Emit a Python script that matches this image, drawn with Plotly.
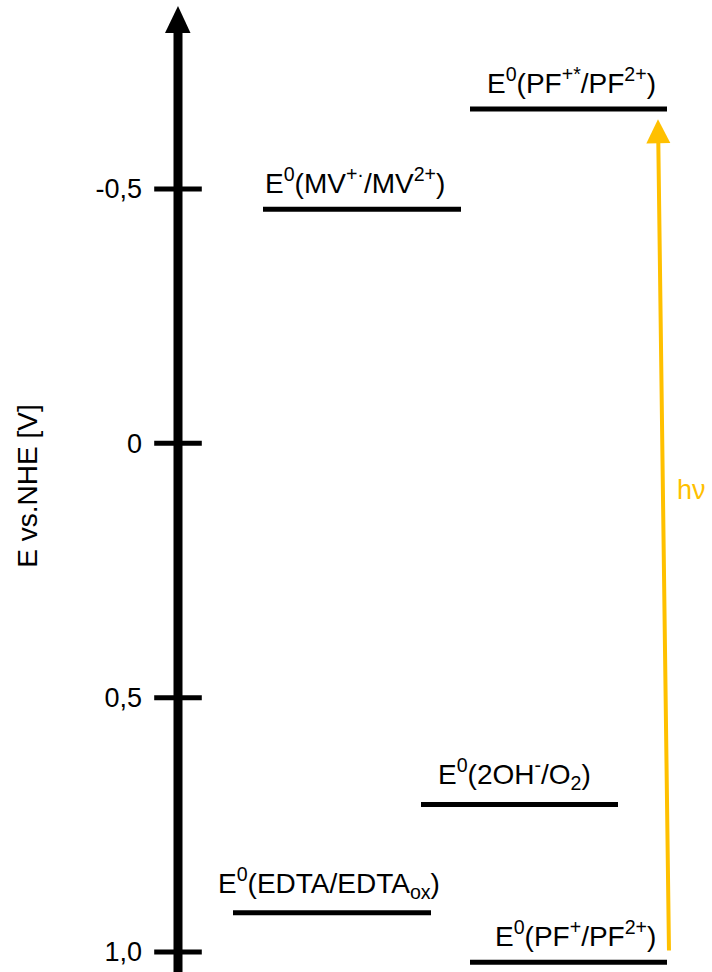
import plotly.graph_objects as go

# ---------------- data ----------------
couples = ["MV", "PF*", "2OH", "EDTA", "PF"]
level_labels = [
    "E<sup>0</sup>(MV<sup>+·</sup>/MV<sup>2+</sup>)",
    "E<sup>0</sup>(PF<sup>+*</sup>/PF<sup>2+</sup>)",
    "E<sup>0</sup>(2OH<sup>-</sup>/O<sub>2</sub>)",
    "E<sup>0</sup>(EDTA/EDTA<sub>ox</sub>)",
    "E<sup>0</sup>(PF<sup>+</sup>/PF<sup>2+</sup>)",
]
potentials = [-0.46, -0.657, 0.71, 0.923, 1.02]   # V vs NHE
tick_values = [-0.5, 0.0, 0.5, 1.0]
tick_labels = ["-0,5", "0", "0,5", "1,0"]
excitation_from = 1.0    # PF+/PF2+ (arrow start)
excitation_to = -0.637   # arrow tip just below PF+*/PF2+

# ---------------- layout helpers ----------------
W, H = 712, 972
ZERO_PX, PX_PER_V = 443.3, 508.7


def px2y(p):
    return (p - ZERO_PX) / PX_PER_V


level_x = [(263, 461), (470, 667), (421, 618), (233, 431), (470, 667)]
label_x = [355, 571, 514, 329, 575]
AXIS_X = 178
ORANGE = "#FFC000"
FONT = "Liberation Sans, Arial, sans-serif"

fig = go.Figure()

# energy levels
for name, v, (x0, x1) in zip(couples, potentials, level_x):
    fig.add_trace(go.Scatter(
        x=[x0, x1], y=[v, v], mode="lines", name=name,
        line=dict(color="black", width=5), hoverinfo="skip", showlegend=False))

# tick crosses on the axis
fig.add_trace(go.Scatter(
    x=[AXIS_X] * len(tick_values), y=tick_values, mode="markers",
    marker=dict(symbol="line-ew", size=34, line=dict(color="black", width=5)),
    hoverinfo="skip", showlegend=False))

# level labels
for lab, v, xc in zip(level_labels, potentials, label_x):
    fig.add_annotation(x=xc, y=v, xref="x", yref="y", text=lab, showarrow=False,
                       xanchor="center", yanchor="bottom", yshift=8,
                       font=dict(family=FONT, size=28, color="black"))

# vertical axis line + arrowhead
fig.add_shape(type="line", x0=AXIS_X, x1=AXIS_X, y0=px2y(H), y1=px2y(30),
              xref="x", yref="y", line=dict(color="black", width=9))
fig.add_shape(type="path", xref="x", yref="y",
              path=f"M {AXIS_X - 13},{px2y(33)} L {AXIS_X + 12.5},{px2y(33)} L {AXIS_X},{px2y(6)} Z",
              fillcolor="black", line=dict(color="black", width=0))

# excitation arrow (h nu)
fig.add_annotation(x=658, y=excitation_to, ax=669, ay=excitation_from,
                   xref="x", yref="y", axref="x", ayref="y", text="",
                   showarrow=True, arrowhead=2, arrowsize=1.2, arrowwidth=4,
                   arrowcolor=ORANGE, standoff=0, startstandoff=0)
fig.add_annotation(x=691, y=px2y(490), xref="x", yref="y", text="hν",
                   showarrow=False, xanchor="center", yanchor="middle",
                   font=dict(family=FONT, size=27, color=ORANGE))

fig.update_layout(
    width=W, height=H,
    margin=dict(l=0, r=0, t=0, b=0),
    paper_bgcolor="white", plot_bgcolor="white",
    showlegend=False,
    xaxis=dict(range=[0, W], visible=False, fixedrange=True),
    yaxis=dict(
        range=[px2y(H), px2y(0)], autorange=False,
        anchor="free", position=AXIS_X / W, side="left",
        showgrid=False, zeroline=False, showline=False,
        tickmode="array", tickvals=tick_values, ticktext=tick_labels,
        ticks="", ticklabelstandoff=36,
        tickfont=dict(family=FONT, size=27, color="black"),
        title=dict(text="E vs.NHE [V]", standoff=48,
                   font=dict(family=FONT, size=28, color="black")),
    ),
)

fig.write_html("out.html", config={"displayModeBar": False},
               post_script="document.body.style.margin='0px';document.body.style.overflow='hidden';")
